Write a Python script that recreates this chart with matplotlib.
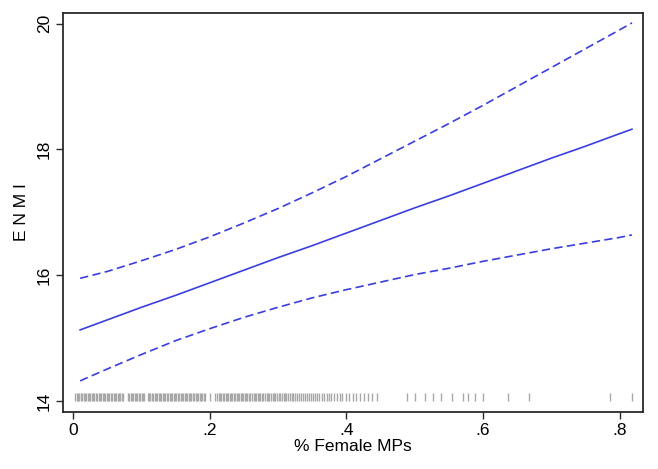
import matplotlib
matplotlib.use("Agg")
import matplotlib.pyplot as plt

# ---------------------------------------------------------------------------
# Data (linear prediction of ENMI with 95% CI)
# ---------------------------------------------------------------------------
x_pts = [0.01, 0.05, 0.10, 0.15, 0.20, 0.25, 0.30, 0.35, 0.40, 0.45,
         0.50, 0.55, 0.60, 0.65, 0.70, 0.75, 0.80, 0.818]
fit = [15.13, 15.29, 15.49, 15.68, 15.88, 16.08, 16.28, 16.47, 16.67, 16.87,
       17.07, 17.26, 17.46, 17.66, 17.86, 18.05, 18.25, 18.32]
upper = [15.95, 16.06, 16.23, 16.41, 16.61, 16.83, 17.06, 17.31, 17.57, 17.85,
         18.13, 18.41, 18.70, 19.00, 19.30, 19.60, 19.90, 20.01]
lower = [14.32, 14.51, 14.74, 14.96, 15.15, 15.33, 15.49, 15.64, 15.77, 15.89,
         16.01, 16.11, 16.22, 16.32, 16.42, 16.51, 16.60, 16.64]

# observed share of female MPs (rug along the bottom)
rug_x = [0.003, 0.005, 0.007, 0.009, 0.011, 0.013, 0.015, 0.017, 0.019, 0.021,
         0.023, 0.025, 0.027, 0.029, 0.031, 0.033, 0.035, 0.037, 0.039, 0.041,
         0.043, 0.045, 0.047, 0.049, 0.051, 0.053, 0.055, 0.057, 0.059, 0.061,
         0.063, 0.065, 0.067, 0.069, 0.071, 0.073, 0.080, 0.082, 0.084, 0.086,
         0.088, 0.090, 0.092, 0.094, 0.096, 0.098, 0.100, 0.102, 0.104, 0.109,
         0.111, 0.113, 0.115, 0.117, 0.119, 0.121, 0.123, 0.125, 0.127, 0.129,
         0.131, 0.133, 0.135, 0.137, 0.139, 0.141, 0.143, 0.145, 0.147, 0.149,
         0.151, 0.153, 0.155, 0.157, 0.159, 0.161, 0.163, 0.165, 0.167, 0.169,
         0.171, 0.173, 0.175, 0.177, 0.179, 0.181, 0.183, 0.185, 0.187, 0.189,
         0.191, 0.193, 0.200, 0.207, 0.211, 0.213, 0.215, 0.217, 0.219, 0.221,
         0.223, 0.225, 0.227, 0.229, 0.231, 0.233, 0.235, 0.237, 0.239, 0.241,
         0.243, 0.245, 0.247, 0.249, 0.251, 0.253, 0.255, 0.257, 0.259, 0.262,
         0.264, 0.266, 0.268, 0.270, 0.272, 0.274, 0.276, 0.278, 0.280, 0.283,
         0.285, 0.287, 0.289, 0.292, 0.294, 0.296, 0.298, 0.301, 0.303, 0.305,
         0.308, 0.310, 0.312, 0.315, 0.317, 0.320, 0.322, 0.325, 0.327, 0.330,
         0.333, 0.336, 0.339, 0.342, 0.345, 0.348, 0.351, 0.354, 0.357, 0.360,
         0.364, 0.367, 0.371, 0.374, 0.378, 0.382, 0.386, 0.390, 0.394, 0.399,
         0.404, 0.409, 0.414, 0.420, 0.426, 0.432, 0.438, 0.444, 0.488, 0.500,
         0.515, 0.527, 0.539, 0.555, 0.571, 0.578, 0.588, 0.600, 0.636, 0.667,
         0.786, 0.818]

x_ticks = [0, 0.2, 0.4, 0.6, 0.8]
x_labels = ["0", ".2", ".4", ".6", ".8"]
y_ticks = [14, 16, 18, 20]

# ---------------------------------------------------------------------------
plt.rcParams["font.family"] = ["Liberation Sans", "DejaVu Sans"]
blue = "#3a3ee0"
dark = "#2a2a2a"

fig = plt.figure(figsize=(6.58, 4.69), dpi=100)
ax = fig.add_axes([0.0957, 0.1222, 0.881, 0.8507])

ax.plot(x_pts, upper, color=blue, lw=1.2, ls=(0, (5, 2.6)))
ax.plot(x_pts, fit, color=blue, lw=1.2)
ax.plot(x_pts, lower, color=blue, lw=1.2, ls=(0, (5, 2.6)))
ax.vlines(rug_x, 14.0, 14.12, color="#a8a8a8", lw=1.0)

ax.set_xlim(-0.0151, 0.8337)
ax.set_ylim(13.83, 20.172)
ax.set_xticks(x_ticks)
ax.set_xticklabels(x_labels)
ax.set_yticks(y_ticks)
ax.set_yticklabels([str(t) for t in y_ticks], rotation=90, va="center")

ax.tick_params(direction="out", length=5, width=1.0, color=dark,
               labelsize=12.5, labelcolor="black", pad=3)
for s in ax.spines.values():
    s.set_linewidth(1.3)
    s.set_color(dark)

ax.set_xlabel("% Female MPs", fontsize=12.5, labelpad=1)
ax.set_ylabel("E N M I", fontsize=12.5, labelpad=6)

fig.savefig("out.png", dpi=100)
